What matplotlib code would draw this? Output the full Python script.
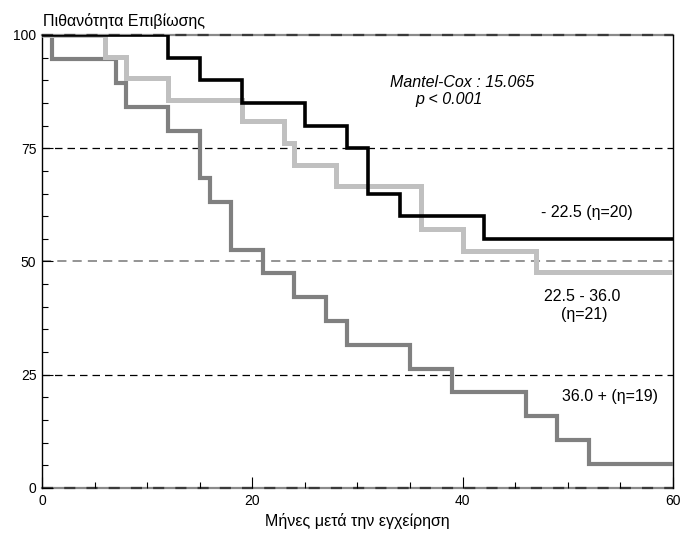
import matplotlib.pyplot as plt
import numpy as np

plt.rcParams['font.family'] = ['Liberation Sans', 'DejaVu Sans']

# Kaplan-Meier steps (months, % survival)
t_low = [0, 12, 15, 19, 25, 29, 31, 34, 42, 60]
s_low = [100, 95, 90, 85, 80, 75, 65, 60, 55, 55]

t_mid = [0, 6, 8, 12, 19, 23, 24, 28, 36, 40, 47, 60]
s_mid = [100, 95.2, 90.5, 85.7, 81.0, 76.2, 71.4, 66.7, 57.1, 52.4, 47.6, 47.6]

t_high = [0, 1, 7, 8, 12, 15, 16, 18, 21, 24, 27, 29, 35, 39, 46, 49, 52, 60]
s_high = [100, 94.7, 89.5, 84.2, 78.9, 68.4, 63.2, 52.6, 47.4, 42.1, 36.8,
          31.6, 26.3, 21.1, 15.8, 10.5, 5.3, 5.3]

x_ticks = [0, 20, 40, 60]
y_ticks = [0, 25, 50, 75, 100]

fig = plt.figure(figsize=(6.86, 5.35), dpi=100)
ax = fig.add_axes([0.0612, 0.0879, 0.9198, 0.8467])

# grid lines
ax.axhline(75, color="black", linestyle=(0, (6, 4)), lw=0.9, zorder=1)
ax.axhline(25, color="black", linestyle=(0, (6, 4)), lw=0.9, zorder=1)
ax.axhline(50, color="#777777", linestyle=(0, (6, 4)), lw=1.1, zorder=1)
for yy in [0, 100]:
    ax.axhline(yy, color="#8a8a8a", lw=1.6, zorder=1, clip_on=False)
    ax.axhline(yy, color="#3a3a3a", linestyle=(0, (5, 5)), lw=1.6, zorder=1, clip_on=False)

ax.step(t_high, s_high, where="post", color="#808080", lw=3.0, zorder=3,
        solid_joinstyle="miter", solid_capstyle="butt")
ax.step(t_mid, s_mid, where="post", color="#c0c0c0", lw=3.6, zorder=4,
        solid_joinstyle="miter", solid_capstyle="butt")
ax.step(t_low, s_low, where="post", color="black", lw=2.6, zorder=5,
        solid_joinstyle="miter", solid_capstyle="butt")

fs = 11.5
ax.text(51.8, 60.9, "- 22.5 (η=20)", ha="center", va="center", fontsize=fs)
ax.text(51.4, 42.2, "22.5 - 36.0", ha="center", va="center", fontsize=fs)
ax.text(51.6, 38.2, "(η=21)", ha="center", va="center", fontsize=fs)
ax.text(54.0, 20.2, "36.0 + (η=19)", ha="center", va="center", fontsize=fs)
ax.text(39.9, 89.6, "Mantel-Cox : 15.065", ha="center", va="center",
        fontsize=fs, style="italic")
ax.text(38.7, 85.7, "p < 0.001", ha="center", va="center",
        fontsize=fs, style="italic")

ax.set_xlim(0, 60)
ax.set_ylim(0, 100)
ax.set_xticks(x_ticks)
ax.set_yticks(y_ticks)
ax.set_xticks(np.arange(0, 61, 5), minor=True)
ax.set_yticks(np.arange(0, 101, 5), minor=True)
ax.tick_params(which="major", direction="in", length=8, width=0.8, labelsize=10, pad=4)
ax.tick_params(which="minor", direction="in", length=4, width=0.8)

ax.spines["top"].set_visible(False)
ax.spines["bottom"].set_visible(False)
ax.spines["left"].set_linewidth(1.0)
ax.spines["right"].set_linewidth(1.0)

ax.set_xlabel("Μήνες μετά την εγχείρηση", fontsize=fs, labelpad=4)
fig.text(0.0627, 0.960, "Πιθανότητα Επιβίωσης", ha="left", va="center", fontsize=fs)

fig.savefig("out.png", dpi=100)
